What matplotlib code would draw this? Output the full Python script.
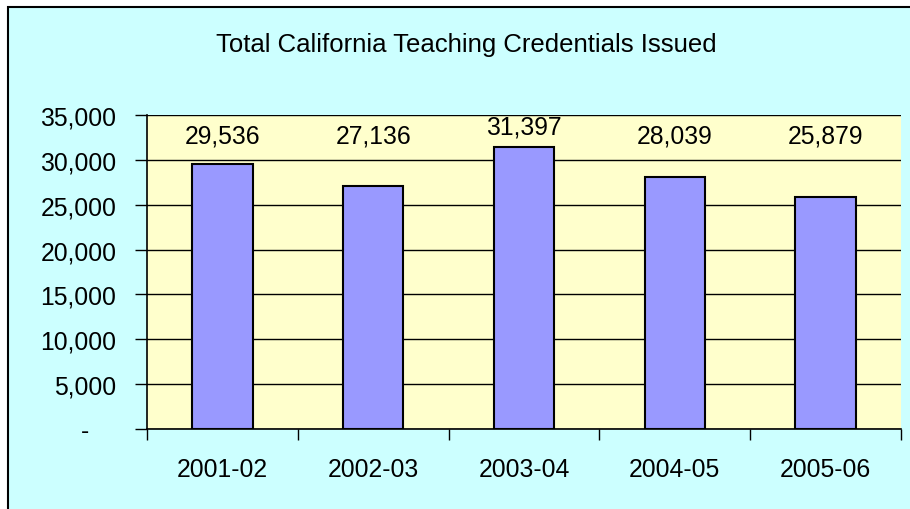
import matplotlib.pyplot as plt
from matplotlib.patches import Rectangle
from matplotlib.ticker import FixedLocator

plt.rcParams['font.family'] = ['Liberation Sans', 'DejaVu Sans']

years = ['2001-02', '2002-03', '2003-04', '2004-05', '2005-06']
credentials = [29536, 27136, 31397, 28039, 25879]
y_ticks = [0, 5000, 10000, 15000, 20000, 25000, 30000, 35000]
y_tick_labels = ['-    ', '5,000', '10,000', '15,000', '20,000', '25,000', '30,000', '35,000']

W, H = 910, 510
fig = plt.figure(figsize=(W / 100, H / 100), dpi=100)
fig.patch.set_facecolor('white')

# chart area background with black border (only left/top visible in the crop)
fig.patches.append(Rectangle((8 / W, -0.1), 1.2, 1 - 8 / H + 0.1, transform=fig.transFigure,
                             facecolor='#CCFFFF', edgecolor='black', linewidth=1.5, zorder=-1))

ax = fig.add_axes([147 / W, 1 - 430 / H, (901 - 147) / W, (430 - 116) / H])
ax.set_facecolor('#FFFFCC')

x = list(range(len(years)))
ax.bar(x, credentials, width=0.4, color='#9999FF', edgecolor='black', linewidth=1.5, zorder=3)

for xi, v in zip(x, credentials):
    ax.text(xi, max(v + 2300, 32700), f'{v:,}', ha='center', va='center', fontsize=17.8, zorder=4)

ax.set_xlim(-0.5, len(years) - 0.5)
ax.set_ylim(0, 35000)

ax.set_yticks(y_ticks)
ax.set_yticklabels(y_tick_labels, fontsize=17.8)
ax.tick_params(axis='y', direction='out', length=9, width=1, pad=13)
ax.yaxis.grid(True, color='black', linewidth=1)
ax.set_axisbelow(True)

ax.set_xticks(x)
ax.set_xticklabels(years, fontsize=17.8)
ax.xaxis.set_minor_locator(FixedLocator([i - 0.5 for i in range(len(years) + 1)]))
ax.tick_params(axis='x', which='major', length=0, pad=20)
ax.tick_params(axis='x', which='minor', direction='out', length=8, width=1)

for s in ['top', 'right']:
    ax.spines[s].set_visible(False)
for s in ['left', 'bottom']:
    ax.spines[s].set_linewidth(1.2)

fig.text(466 / W, 1 - 45 / H, 'Total California Teaching Credentials Issued',
         ha='center', va='center', fontsize=18.5)

fig.savefig('out.png', dpi=100)
